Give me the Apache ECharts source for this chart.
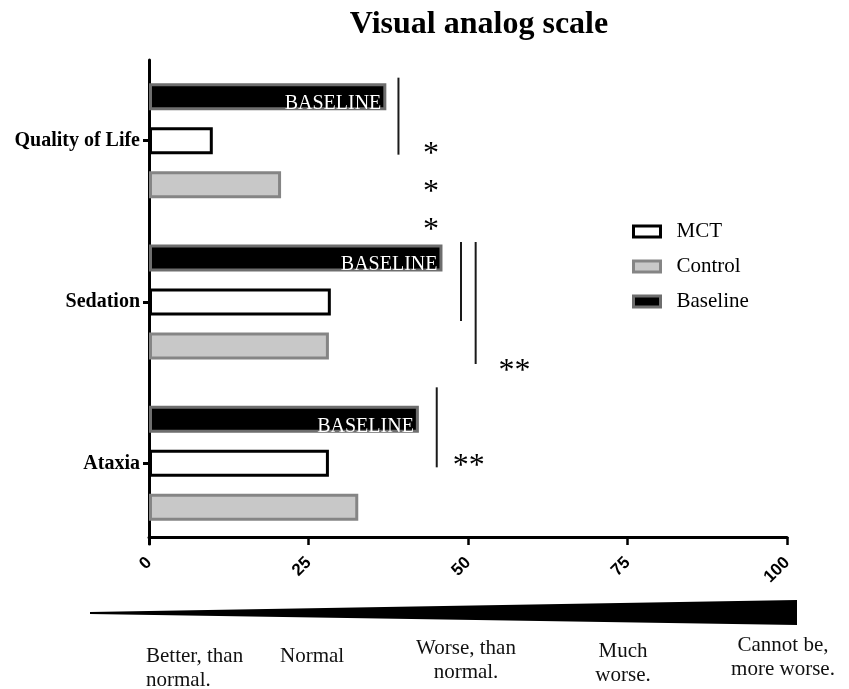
<!DOCTYPE html>
<html>
<head>
<meta charset="utf-8">
<script src="https://cdn.jsdelivr.net/npm/echarts@6/dist/echarts.min.js"></script>
<style>
  html, body { margin: 0; padding: 0; background: #fff; }
  #chart { width: 849px; height: 689px; }
</style>
</head>
<body>
<div id="chart"></div>
<script>
const categories = ['Quality of Life', 'Sedation', 'Ataxia'];
const baseline = [37.2, 46.0, 42.3];
const mct = [10.0, 28.5, 28.2];
const control = [20.7, 28.2, 32.8];
const xTicks = [0, 25, 50, 75, 100];

// significance brackets: value on x, pixel span around the category centre
const sigLines = [
  {cat: 'Quality of Life', x: 39.1, from: -63, to: 14},
  {cat: 'Sedation', x: 48.9, from: -60, to: 19},
  {cat: 'Sedation', x: 51.2, from: -60, to: 62},
  {cat: 'Ataxia', x: 45.1, from: -76, to: 4}
];
const sigStars = [
  {cat: 'Quality of Life', x: 44.2, dy: 14, text: '*'},
  {cat: 'Quality of Life', x: 44.2, dy: 52, text: '*'},
  {cat: 'Quality of Life', x: 44.2, dy: 90, text: '*'},
  {cat: 'Sedation', x: 57.3, dy: 70, text: '**'},
  {cat: 'Ataxia', x: 50.1, dy: 3, text: '**'}
];
const scaleLabels = [
  {text: 'Better, than\nnormal.', x: 146, align: 'left', y: 668},
  {text: 'Normal', x: 280, align: 'left', y: 656},
  {text: 'Worse, than\nnormal.', x: 466, align: 'center', y: 660},
  {text: 'Much\nworse.', x: 623, align: 'center', y: 663},
  {text: 'Cannot be,\nmore worse.', x: 783, align: 'center', y: 657}
];

const serif = '"Liberation Serif", "Times New Roman", serif';
const chart = echarts.init(document.getElementById('chart'));

const option = {
  backgroundColor: '#fff',
  animation: false,
  title: {
    text: 'Visual analog scale',
    left: 474,
    top: 4,
    textAlign: 'center',
    textStyle: {fontFamily: serif, fontWeight: 'bold', fontSize: 32, color: '#000'}
  },
  legend: {
    orient: 'vertical',
    left: 627,
    top: 216,
    itemWidth: 27,
    itemHeight: 11,
    itemGap: 14,
    icon: 'rect',
    textStyle: {fontFamily: serif, fontSize: 21, color: '#000', padding: [0, 0, 0, 11]},
    data: [
      {name: 'MCT', itemStyle: {color: '#fff', borderColor: '#000', borderWidth: 3}},
      {name: 'Control', itemStyle: {color: '#c8c8c8', borderColor: '#858585', borderWidth: 3}},
      {name: 'Baseline', itemStyle: {color: '#000', borderColor: '#6e6e6e', borderWidth: 3}}
    ]
  },
  grid: {left: 149, right: 62, top: 60, bottom: 145, outerBoundsMode: 'none'},
  xAxis: {
    type: 'value',
    min: 0,
    max: 100,
    interval: 25,
    offset: -7,
    axisLine: {show: true, lineStyle: {color: '#000', width: 3}},
    axisTick: {show: true, length: 8, lineStyle: {color: '#000', width: 2.5}},
    splitLine: {show: false},
    axisLabel: {
      rotate: 45,
      margin: 23,
      fontFamily: '"Liberation Sans", Arial, sans-serif',
      fontWeight: 'bold',
      fontSize: 17,
      color: '#000',
      formatter: function (v) { return xTicks.indexOf(v) >= 0 ? String(v) : ''; }
    }
  },
  yAxis: {
    type: 'category',
    inverse: true,
    data: categories,
    axisLine: {show: true, lineStyle: {color: '#000', width: 3}},
    axisTick: {show: true, alignWithLabel: true, length: 6, lineStyle: {color: '#000', width: 3}},
    axisLabel: {margin: 9, fontFamily: serif, fontWeight: 'bold', fontSize: 20, color: '#000'}
  },
  series: [
    {
      name: 'Baseline',
      type: 'bar',
      data: baseline,
      barWidth: 27,
      barGap: '63%',
      itemStyle: {color: '#000', borderColor: '#6e6e6e', borderWidth: 3},
      label: {
        show: true,
        position: 'insideRight',
        formatter: 'BASELINE',
        offset: [0, 7],
        color: '#fff',
        fontFamily: serif,
        fontSize: 20
      }
    },
    {
      name: 'MCT',
      type: 'bar',
      data: mct,
      barWidth: 27,
      barGap: '63%',
      itemStyle: {color: '#fff', borderColor: '#000', borderWidth: 3}
    },
    {
      name: 'Control',
      type: 'bar',
      data: control,
      barWidth: 27,
      barGap: '63%',
      itemStyle: {color: '#c8c8c8', borderColor: '#858585', borderWidth: 3}
    }
  ]
};

chart.setOption(option);

// annotations placed through the chart's own scales
const graphics = [];
sigLines.forEach(function (s) {
  const px = chart.convertToPixel({xAxisIndex: 0}, s.x);
  const cy = chart.convertToPixel({yAxisIndex: 0}, s.cat);
  graphics.push({
    type: 'line',
    shape: {x1: px, y1: cy + s.from, x2: px, y2: cy + s.to},
    style: {stroke: '#1a1a1a', lineWidth: 2}
  });
});
sigStars.forEach(function (s) {
  const px = chart.convertToPixel({xAxisIndex: 0}, s.x);
  const cy = chart.convertToPixel({yAxisIndex: 0}, s.cat);
  graphics.push({
    type: 'text',
    x: px,
    y: cy + s.dy,
    style: {text: s.text, fill: '#000', font: '32px ' + serif, textAlign: 'center', textVerticalAlign: 'middle'}
  });
});

// the widening wedge under the axis
graphics.push({
  type: 'polygon',
  shape: {points: [[90, 612], [797, 600], [797, 625], [90, 614]]},
  style: {fill: '#000'}
});
scaleLabels.forEach(function (l) {
  graphics.push({
    type: 'text',
    x: l.x,
    y: l.y,
    style: {
      text: l.text,
      fill: '#111',
      font: '21px ' + serif,
      lineHeight: 24,
      textAlign: l.align,
      textVerticalAlign: 'middle'
    }
  });
});

chart.setOption({graphic: graphics});
</script>
</body>
</html>
